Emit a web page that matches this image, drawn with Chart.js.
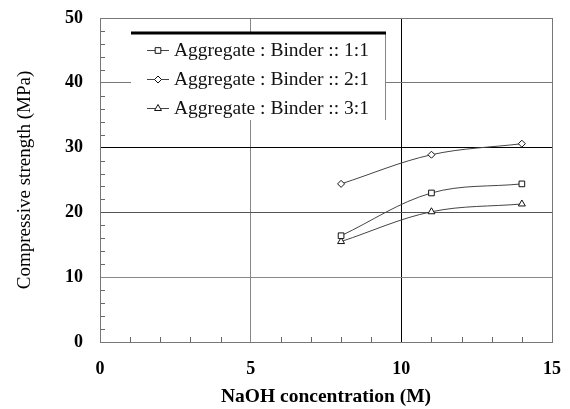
<!DOCTYPE html>
<html>
<head>
<meta charset="utf-8">
<script src="https://cdn.jsdelivr.net/npm/chart.js@4/dist/chart.umd.min.js"></script>
<style>
  html, body { margin: 0; padding: 0; background: #fff; }
  #wrap { width: 570px; height: 409px; }
</style>
</head>
<body>
<div id="wrap"><canvas id="chart" width="570" height="409"></canvas></div>
<script>
// ── DATA ──────────────────────────────────────────
const naoh = [8, 11, 14];
const ratio11 = [16.4, 23.0, 24.4];
const ratio21 = [24.4, 28.9, 30.6];
const ratio31 = [15.5, 20.1, 21.3];
const seriesLabels = [
  'Aggregate : Binder :: 1:1',
  'Aggregate : Binder :: 2:1',
  'Aggregate : Binder :: 3:1'
];
const xTicks = [0, 5, 10, 15];
const yTicks = [0, 10, 20, 30, 40, 50];

const SERIF = '"Liberation Serif", "DejaVu Serif", serif';
const toPts = ys => naoh.map((x, i) => ({ x, y: ys[i] }));

// grid line shades differ in the original figure
const yGridColor = v => v === 30 ? '#000' : v === 20 ? '#555' : v === 40 ? '#777' : v === 10 ? '#888' : 'rgba(0,0,0,0)';
const xGridColor = v => v === 10 ? '#000' : v === 5 ? '#888' : 'rgba(0,0,0,0)';

function series(label, ys, style) {
  return {
    label,
    data: toPts(ys),
    showLine: true,
    tension: 0.35,
    borderColor: '#444',
    borderWidth: 1,
    pointStyle: style,
    pointRadius: style === 'rectRot' ? 3.5 : 4,
    pointBackgroundColor: '#fff',
    pointBorderColor: '#111',
    pointBorderWidth: 1
  };
}

// ── PLUGIN: minor ticks, frame, legend box ────────
const decor = {
  id: 'decor',
  afterDatasetsDraw(chart) {
    const { ctx, chartArea: a, scales: { x, y } } = chart;
    ctx.save();
    ctx.strokeStyle = '#666';
    ctx.lineWidth = 1;
    // minor ticks inside left axis
    for (let v = 2; v < 50; v += 2) {
      if (v % 10 === 0) continue;
      const py = Math.round(y.getPixelForValue(v)) + 0.5;
      ctx.beginPath(); ctx.moveTo(a.left, py); ctx.lineTo(a.left + 5, py); ctx.stroke();
    }
    // minor ticks inside bottom axis
    for (let v = 1; v < 15; v++) {
      if (v % 5 === 0) continue;
      const px = Math.round(x.getPixelForValue(v)) + 0.5;
      ctx.beginPath(); ctx.moveTo(px, a.bottom); ctx.lineTo(px, a.bottom - 5); ctx.stroke();
    }
    // frame
    ctx.strokeStyle = '#777';
    ctx.strokeRect(a.left + 0.5, a.top + 0.5, a.right - a.left, a.bottom - a.top);

    // legend
    const lx = 131, ly = 33, lw = 254, lh = 87;
    ctx.fillStyle = '#fff';
    ctx.fillRect(lx, ly, lw, lh);
    ctx.strokeStyle = '#888';
    ctx.lineWidth = 1;
    ctx.beginPath(); ctx.moveTo(lx + lw + 0.5, ly); ctx.lineTo(lx + lw + 0.5, ly + lh); ctx.stroke();
    ctx.strokeStyle = '#000';
    ctx.lineWidth = 3;
    ctx.beginPath(); ctx.moveTo(lx, ly); ctx.lineTo(lx + lw + 1, ly); ctx.stroke();

    ctx.font = '19.5px ' + SERIF;
    ctx.textBaseline = 'middle';
    const rows = [50, 79, 108];
    chart.data.datasets.forEach((ds, i) => {
      const cy = rows[i];
      ctx.strokeStyle = '#444';
      ctx.lineWidth = 1;
      ctx.beginPath(); ctx.moveTo(147, cy + 0.5); ctx.lineTo(169, cy + 0.5); ctx.stroke();
      ctx.strokeStyle = '#111';
      ctx.fillStyle = '#fff';
      Chart.helpers.drawPoint(ctx, {
        pointStyle: ds.pointStyle, radius: ds.pointRadius, rotation: 0, borderWidth: 1
      }, 158, cy + 0.5);
      ctx.fillStyle = '#111';
      ctx.fillText(ds.label, 174, cy + 1);
    });
    ctx.restore();
  }
};

// ── CHART ─────────────────────────────────────────
new Chart(document.getElementById('chart'), {
  type: 'scatter',
  data: {
    datasets: [
      series(seriesLabels[0], ratio11, 'rect'),
      series(seriesLabels[1], ratio21, 'rectRot'),
      series(seriesLabels[2], ratio31, 'triangle')
    ]
  },
  options: {
    responsive: false,
    animation: false,
    layout: { padding: { top: 18, right: 18, left: 0, bottom: 0 } },
    plugins: { legend: { display: false }, tooltip: { enabled: false } },
    scales: {
      x: {
        type: 'linear', min: 0, max: 15,
        afterBuildTicks: s => { s.ticks = xTicks.map(v => ({ value: v })); },
        afterFit: s => { s.height = 67; s.paddingLeft = 0; s.paddingRight = 0; },
        border: { display: false },
        grid: {
          drawTicks: false,
          color: c => xGridColor(c.tick.value),
          lineWidth: 1
        },
        ticks: {
          padding: 17,
          color: '#000',
          font: { family: SERIF, size: 18, weight: 'bold' }
        },
        title: {
          display: true,
          text: 'NaOH concentration (M)',
          color: '#000',
          padding: { top: 3, bottom: 0 },
          font: { family: SERIF, size: 19.5, weight: 'bold' }
        }
      },
      y: {
        type: 'linear', min: 0, max: 50,
        afterBuildTicks: s => { s.ticks = yTicks.map(v => ({ value: v })); },
        afterFit: s => { s.width = 100; s.paddingTop = 0; s.paddingBottom = 0; },
        border: { display: false },
        grid: {
          drawTicks: false,
          color: c => yGridColor(c.tick.value),
          lineWidth: 1
        },
        ticks: {
          padding: 17,
          color: '#000',
          font: { family: SERIF, size: 18, weight: 'bold' }
        },
        title: {
          display: true,
          text: 'Compressive strength (MPa)',
          color: '#000',
          padding: { top: 14, bottom: 4 },
          font: { family: SERIF, size: 19 }
        }
      }
    }
  },
  plugins: [decor]
});
</script>
</body>
</html>
